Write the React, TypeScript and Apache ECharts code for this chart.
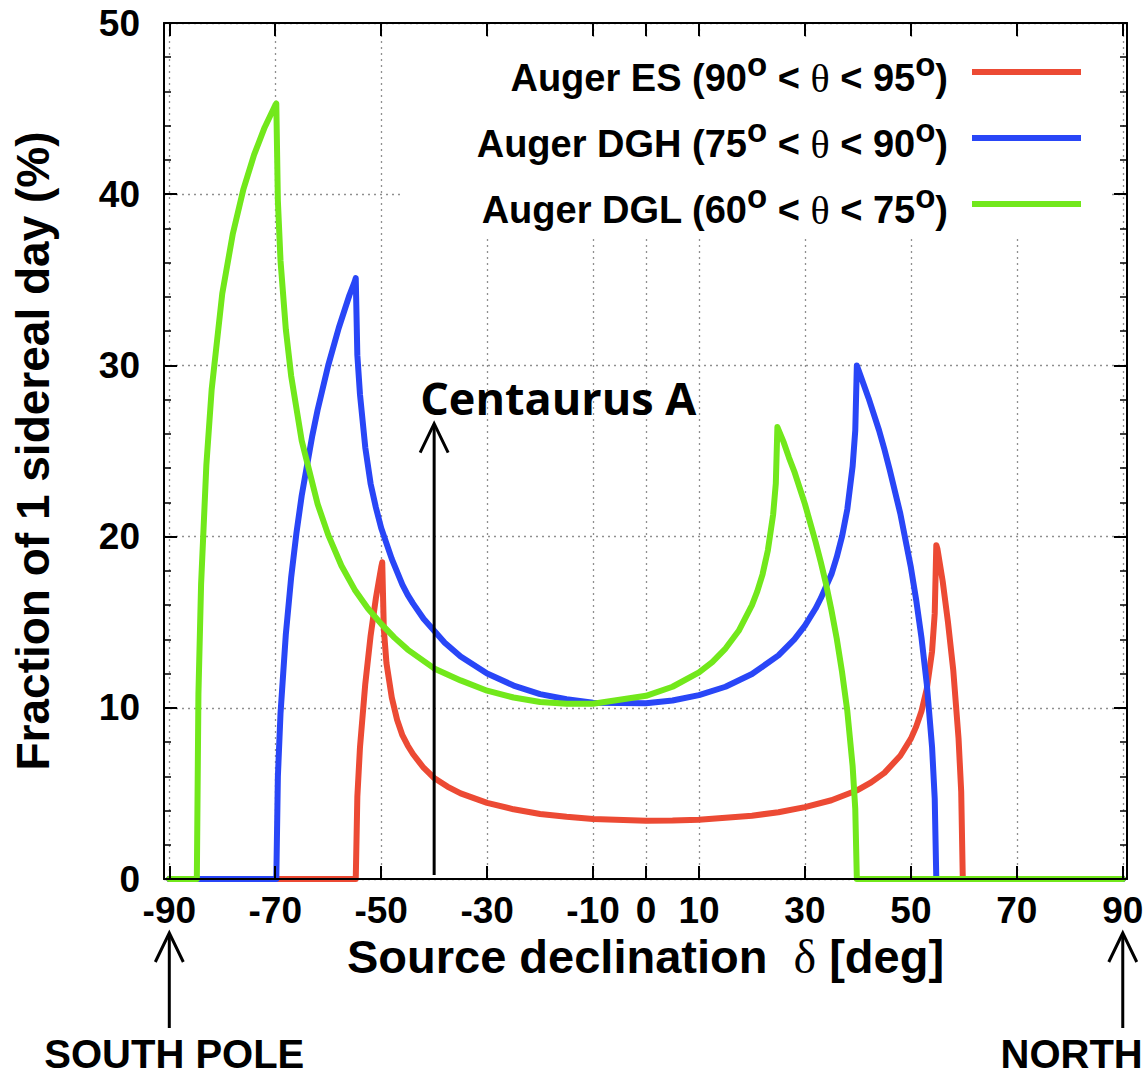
import React, { useEffect, useRef } from 'react';
import * as echarts from 'echarts';

// ---------- data ----------
const xTickValues = [-90, -70, -50, -30, -10, 0, 10, 30, 50, 70, 90];

const seriesNames = ['Auger ES', 'Auger DGH', 'Auger DGL'];
const zenithLow = [90, 75, 60];
const zenithHigh = [95, 90, 75];
const seriesColors = ['#ec4a34', '#2946f7', '#72e81b'];

// Auger ES (90 < theta < 95)
const esDec = [-90, -54.8, -54.5, -54, -53, -52, -51, -50.5, -50, -49.8, -49.5, -49, -48, -47, -46, -45, -44, -42, -40, -37.5, -35, -30, -25, -20, -15, -10, 0, 5, 10, 20, 25, 30, 35, 40, 42.5, 45, 48, 50, 51, 52, 53, 54, 54.5, 54.8, 55, 56, 57, 58, 59, 59.5, 59.8, 90];
const esFrac = [0, 0, 4.8, 7.7, 11.4, 14.2, 16.4, 17.3, 18.2, 18.5, 14.6, 12.6, 10.6, 9.3, 8.4, 7.8, 7.3, 6.5, 5.9, 5.4, 5.0, 4.45, 4.07, 3.8, 3.63, 3.5, 3.4, 3.41, 3.46, 3.7, 3.9, 4.2, 4.6, 5.2, 5.64, 6.2, 7.2, 8.2, 8.9, 9.8, 11.1, 13.3, 15.5, 19.5, 19.3, 17.4, 15.0, 12.2, 8.2, 5.1, 0, 0];

// Auger DGH (75 < theta < 90)
const dghDec = [-90, -69.8, -69.5, -69, -68, -67, -66, -65, -63, -62, -60, -58, -56, -55, -54.8, -54.5, -54, -53, -52, -51, -50, -48, -46, -45, -44, -42, -40, -38, -35, -30, -25, -20, -15, -10, 0, 5, 10, 15, 20, 25, 28, 30, 32, 33, 35, 36, 37, 38, 39, 39.5, 39.8, 40.5, 42, 44, 45, 46, 48, 50, 51, 52, 53, 54, 54.5, 54.8, 90];
const dghFrac = [0, 0, 6.0, 9.7, 14.3, 17.6, 20.2, 22.4, 25.9, 27.4, 30.0, 32.2, 34.1, 34.9, 35.1, 30.6, 28.3, 25.2, 23.1, 21.7, 20.5, 18.7, 17.2, 16.6, 16.1, 15.2, 14.5, 13.8, 13.0, 12.0, 11.3, 10.8, 10.5, 10.3, 10.26, 10.43, 10.74, 11.23, 11.97, 13.06, 14.0, 14.8, 15.8, 16.4, 17.8, 18.8, 20.0, 21.6, 24.1, 26.2, 30.0, 29.4, 28.1, 26.2, 25.1, 23.9, 21.35, 18.2, 16.3, 14.1, 11.4, 7.7, 4.7, 0, 0];

// Auger DGL (60 < theta < 75)
const dglDec = [-90, -84.8, -84.5, -84, -83, -82, -80, -78, -76, -74, -72, -70, -69.8, -69.5, -69, -68, -67, -65, -62, -60, -57.5, -55, -52.5, -50, -47.5, -45, -40, -35, -30, -25, -20, -15, -10, 0, 5, 10, 12.5, 15, 17.5, 20, 21, 22, 23, 24, 24.5, 24.8, 26, 27, 28, 30, 32, 33, 34, 35, 36, 37, 38, 39, 39.5, 39.8, 90];
const dglFrac = [0, 0, 10.8, 17.2, 24.2, 28.6, 34.2, 37.7, 40.3, 42.3, 43.9, 45.2, 45.3, 39.6, 36.1, 32.1, 29.4, 25.6, 21.9, 20.1, 18.3, 16.9, 15.8, 14.9, 14.1, 13.4, 12.3, 11.6, 11.0, 10.6, 10.34, 10.23, 10.24, 10.7, 11.23, 12.07, 12.67, 13.46, 14.5, 16.0, 16.8, 17.8, 19.2, 21.3, 23.1, 26.4, 25.5, 24.6, 23.8, 21.9, 19.7, 18.5, 17.2, 15.7, 14.05, 12.1, 9.8, 6.6, 4.1, 0, 0];

// annotations
const centaurusLabel = 'Centaurus A';
const centaurusDec = -40;
const centaurusTop = 26.6;
const poleDecs = [-90, 90];
const poleLabels = ['SOUTH POLE', 'NORTH'];

const decArrays = [esDec, dghDec, dglDec];
const fracArrays = [esFrac, dghFrac, dglFrac];

// ---------- styling ----------
const FONT = '"Liberation Sans", Arial, Helvetica, sans-serif';
const SERIF = '"Liberation Serif", "DejaVu Serif", serif';
const BLACK = '#000';

const xCommon: any = { type: 'value', min: -91, max: 90.8, gridIndex: 0 };
const yCommon: any = { type: 'value', min: 0, max: 50, interval: 10, gridIndex: 0 };

const frameLine = { show: true, onZero: false, lineStyle: { color: BLACK, width: 2 } };
const majorTick = (vals?: number[]) => ({
  show: true,
  inside: true,
  length: 13,
  ...(vals ? { customValues: vals } : {}),
  lineStyle: { color: BLACK, width: 2 },
});
const minorTick = { show: true, splitNumber: 5, length: 7, lineStyle: { color: BLACK, width: 1.5 } };
const gridDots = { show: true, lineStyle: { color: '#8f8f8f', width: 1.3, type: [2, 4] } };

const legendRich = {
  b: { fontFamily: FONT, fontWeight: 'bold', fontSize: 38, lineHeight: 60, color: BLACK },
  s: { fontFamily: FONT, fontWeight: 'bold', fontSize: 33, lineHeight: 20, verticalAlign: 'top', color: BLACK },
  th: { fontFamily: SERIF, fontWeight: 'normal', fontSize: 40, lineHeight: 60, color: BLACK },
};

const legendRowsY = [72, 138, 204];

function legendElements() {
  const els: any[] = [
    {
      type: 'rect',
      id: 'legend-bg',
      z: 1,
      shape: { x: 402, y: 37, width: 710, height: 200 },
      style: { fill: '#ffffff' },
    },
  ];
  seriesNames.forEach((name, i) => {
    const txt = `{b|${name} (${zenithLow[i]}}{s|o}{b| < }{th|θ}{b| < ${zenithHigh[i]}}{s|o}{b|)}`;
    els.push({
      type: 'text',
      id: 'legend-text-' + i,
      z: 6,
      x: 948,
      y: legendRowsY[i] + 6,
      style: { text: txt, align: 'right', verticalAlign: 'middle', rich: legendRich, fill: BLACK },
    });
    els.push({
      type: 'line',
      id: 'legend-line-' + i,
      z: 6,
      shape: { x1: 972, y1: legendRowsY[i], x2: 1081, y2: legendRowsY[i] },
      style: { stroke: seriesColors[i], lineWidth: 6 },
    });
  });
  return els;
}

function arrow(id: string, x: number, yTip: number, yEnd: number) {
  return [
    {
      type: 'line',
      id: id + '-shaft',
      z: 6,
      shape: { x1: x, y1: yEnd, x2: x, y2: yTip + 1 },
      style: { stroke: BLACK, lineWidth: 3 },
    },
    {
      type: 'polyline',
      id: id + '-head',
      z: 6,
      shape: { points: [[x - 14, yTip + 29], [x, yTip], [x + 14, yTip + 29]] },
      style: { stroke: BLACK, lineWidth: 3, fill: 'none' },
    },
  ];
}

export default function App() {
  const ref = useRef<HTMLDivElement>(null);

  useEffect(() => {
    if (!ref.current) return;
    const chart = echarts.init(ref.current, undefined, { renderer: 'svg' });

    const option: any = {
      animation: false,
      backgroundColor: '#ffffff',
      grid: { left: 164, right: 18, top: 23, bottom: 200, outerBoundsMode: 'none', containLabel: false },
      xAxis: [
        {
          ...xCommon,
          position: 'bottom',
          z: 3,
          axisLine: frameLine,
          axisTick: majorTick(xTickValues),
          axisLabel: {
            show: true,
            customValues: xTickValues,
            margin: 16,
            lineHeight: 30,
            color: BLACK,
            fontSize: 37,
            fontWeight: 'bold',
            fontFamily: FONT,
          },
          splitLine: { show: false },
          name: 'Source declination  {d|δ} [deg]',
          nameLocation: 'middle',
          nameGap: 57,
          nameMoveOverlap: false,
          nameTextStyle: {
            color: BLACK,
            fontSize: 47,
            lineHeight: 40,
            fontWeight: 'bold',
            fontFamily: FONT,
            rich: { d: { fontFamily: SERIF, fontSize: 48, lineHeight: 40, fontWeight: 'normal', color: BLACK } },
          },
        },
        {
          ...xCommon,
          position: 'top',
          z: 3,
          axisLine: frameLine,
          axisTick: majorTick(xTickValues),
          axisLabel: { show: false },
          splitLine: { show: false },
        },
        {
          ...xCommon,
          position: 'bottom',
          z: 0,
          axisLine: { show: false },
          axisTick: { show: false, customValues: xTickValues },
          axisLabel: { show: false, customValues: xTickValues },
          splitLine: gridDots,
        },
      ],
      yAxis: [
        {
          ...yCommon,
          position: 'left',
          z: 3,
          axisLine: frameLine,
          axisTick: majorTick(),
          minorTick,
          axisLabel: {
            show: true,
            margin: 24,
            color: BLACK,
            fontSize: 37,
            fontWeight: 'bold',
            fontFamily: FONT,
          },
          splitLine: { show: false },
          name: 'Fraction of 1 sidereal day (%)',
          nameLocation: 'middle',
          nameRotate: 90,
          nameGap: 108,
          nameMoveOverlap: false,
          nameTextStyle: { color: BLACK, fontSize: 46, fontWeight: 'bold', fontFamily: FONT },
        },
        {
          ...yCommon,
          position: 'right',
          z: 3,
          axisLine: frameLine,
          axisTick: majorTick(),
          minorTick,
          axisLabel: { show: false },
          splitLine: { show: false },
        },
        {
          ...yCommon,
          position: 'left',
          z: 0,
          axisLine: { show: false },
          axisTick: { show: false },
          axisLabel: { show: false },
          splitLine: gridDots,
        },
      ],
      series: seriesNames.map((name, i) => ({
        name,
        type: 'line',
        xAxisIndex: 0,
        yAxisIndex: 0,
        z: 2,
        showSymbol: false,
        symbol: 'none',
        smooth: false,
        lineStyle: { color: seriesColors[i], width: 6, join: 'round', cap: 'round' },
        itemStyle: { color: seriesColors[i] },
        data: decArrays[i].map((d, k) => [d, fracArrays[i][k]]),
      })),
      graphic: { elements: legendElements() },
    };

    chart.setOption(option);

    // annotations positioned through the chart's own scales
    const [cx, cy0] = chart.convertToPixel({ seriesIndex: 0 }, [centaurusDec, 0]) as number[];
    const [, cyTop] = chart.convertToPixel({ seriesIndex: 0 }, [centaurusDec, centaurusTop]) as number[];
    const [sx, axisY] = chart.convertToPixel({ seriesIndex: 0 }, [poleDecs[0], 0]) as number[];
    const [nx] = chart.convertToPixel({ seriesIndex: 0 }, [poleDecs[1], 0]) as number[];

    const annot: any[] = [
      ...arrow('cen', cx, cyTop, cy0 - 4),
      {
        type: 'text',
        id: 'cen-text',
        z: 6,
        x: cx - 14,
        y: cyTop - 26,
        style: {
          text: centaurusLabel,
          fill: BLACK,
          fontFamily: '"Open Sans", "Noto Sans", sans-serif',
          fontWeight: 'bold',
          fontSize: 45,
          align: 'left',
          verticalAlign: 'middle',
        },
      },
      ...arrow('south', sx, axisY + 54, axisY + 149),
      ...arrow('north', nx, axisY + 54, axisY + 149),
      {
        type: 'text',
        id: 'south-text',
        z: 6,
        x: sx + 5,
        y: axisY + 175,
        style: {
          text: poleLabels[0],
          fill: BLACK,
          fontFamily: FONT,
          fontWeight: 'bold',
          fontSize: 40,
          align: 'center',
          verticalAlign: 'middle',
        },
      },
      {
        type: 'text',
        id: 'north-text',
        z: 6,
        x: nx + 20,
        y: axisY + 175,
        style: {
          text: poleLabels[1],
          fill: BLACK,
          fontFamily: FONT,
          fontWeight: 'bold',
          fontSize: 40,
          align: 'right',
          verticalAlign: 'middle',
        },
      },
    ];

    chart.setOption({ graphic: { elements: [...legendElements(), ...annot] } });

    return () => {
      chart.dispose();
    };
  }, []);

  return (
    <div
      ref={ref}
      style={{ position: 'fixed', left: 0, top: 0, width: 1145, height: 1079, background: '#fff' }}
    />
  );
}
